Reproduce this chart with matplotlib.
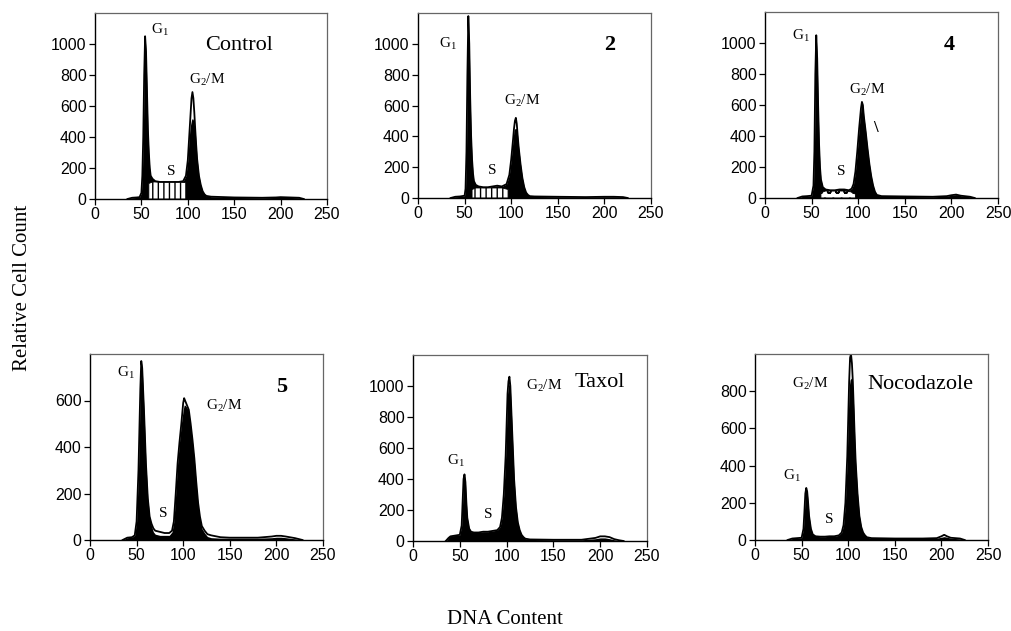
import numpy as np
import matplotlib
matplotlib.use('Agg')
import matplotlib.pyplot as plt

# DNA content histograms (x = DNA content, y = relative cell count)
ctrl_x = [35, 40, 45, 48, 50, 51, 52, 53, 54, 55, 56, 57, 58, 59, 60, 62, 65, 70, 80, 90, 95, 98,
          100, 101, 102, 103, 104, 105, 106, 107, 108, 109, 110, 112, 114, 116, 118, 120, 125,
          150, 180, 195, 200, 210, 220, 225]
ctrl_counts = [0, 8, 10, 12, 40, 150, 400, 800, 1050, 950, 700, 450, 300, 200, 150, 130, 115, 110,
               110, 110, 115, 150, 250, 350, 450, 550, 650, 690, 650, 560, 450, 350, 260, 150, 90,
               50, 30, 20, 15, 10, 8, 10, 12, 10, 8, 0]
ctrl_fit = [0, 8, 10, 12, 40, 150, 400, 800, 1050, 950, 700, 450, 300, 200, 150, 130, 115, 110,
            110, 110, 115, 150, 250, 350, 430, 480, 510, 520, 510, 480, 440, 350, 260, 150, 90,
            50, 30, 20, 15, 10, 8, 10, 12, 10, 8, 0]
ctrl_s_x = [58, 62, 70, 80, 90, 98]
ctrl_s_y = [100, 110, 110, 110, 110, 105]

c2_x = [35, 40, 45, 50, 51, 52, 53, 54, 55, 56, 57, 58, 59, 60, 62, 65, 70, 75, 80, 85, 90, 95, 98,
        100, 102, 103, 104, 105, 106, 107, 108, 110, 112, 114, 116, 118, 120, 125, 150, 180, 200,
        210, 220, 225]
c2_counts = [0, 8, 10, 15, 60, 300, 800, 1180, 1000, 650, 400, 250, 160, 110, 85, 75, 70, 70, 75,
             80, 75, 90, 150, 250, 380, 450, 500, 520, 480, 400, 330, 220, 130, 70, 35, 20, 12, 10,
             8, 6, 8, 8, 6, 0]
c2_fit = [0, 8, 10, 15, 60, 300, 800, 1180, 1000, 650, 400, 250, 160, 110, 85, 75, 70, 70, 75,
          80, 75, 90, 150, 250, 380, 440, 450, 450, 450, 400, 330, 220, 130, 70, 35, 20, 12, 10,
          8, 6, 8, 8, 6, 0]
c2_s_x = [58, 62, 70, 80, 90, 97]
c2_s_y = [55, 65, 65, 65, 65, 55]

c4_x = [35, 40, 45, 50, 52, 53, 54, 55, 56, 57, 58, 59, 60, 62, 65, 70, 75, 80, 85, 90, 93, 95, 97,
        99, 101, 103, 104, 105, 106, 108, 110, 112, 114, 116, 118, 120, 125, 150, 180, 195, 200,
        205, 210, 220, 225]
c4_counts = [0, 10, 12, 15, 80, 300, 800, 1050, 900, 600, 350, 200, 120, 70, 55, 50, 50, 55, 55,
             50, 60, 90, 170, 300, 450, 580, 620, 600, 530, 430, 320, 220, 140, 80, 40, 20, 12, 10,
             8, 12, 18, 22, 15, 8, 0]
c4_fit = c4_counts
c4_s_x = [60, 65, 75, 85, 92, 97]
c4_s_y = [35, 45, 45, 45, 40, 25]

c5_x = [35, 40, 45, 48, 50, 52, 54, 55, 56, 58, 60, 62, 64, 66, 68, 70, 75, 80, 85, 88, 90, 92, 94,
        96, 98, 100, 101, 102, 104, 106, 108, 110, 112, 114, 116, 118, 120, 123, 126, 130, 140,
        150, 180, 195, 200, 205, 210, 220, 228]
c5_counts = [0, 10, 12, 20, 80, 300, 650, 770, 740, 550, 330, 180, 100, 70, 50, 40, 35, 30, 30, 40,
             80, 200, 330, 420, 500, 590, 610, 600, 580, 560, 500, 430, 350, 250, 160, 100, 60, 40,
             25, 20, 12, 10, 10, 15, 18, 18, 15, 8, 0]
c5_fit = [0, 10, 12, 20, 80, 300, 650, 770, 740, 550, 330, 180, 100, 60, 35, 25, 20, 20, 20, 35,
          80, 200, 330, 420, 500, 560, 580, 580, 570, 550, 490, 420, 340, 240, 150, 90, 50, 30,
          15, 10, 8, 8, 8, 10, 12, 12, 10, 5, 0]

tax_x = [35, 38, 40, 45, 50, 52, 53, 54, 55, 56, 57, 58, 60, 62, 65, 70, 75, 80, 85, 90, 93, 95,
         97, 99, 100, 101, 102, 103, 104, 105, 106, 107, 108, 110, 112, 114, 116, 118, 120, 125,
         150, 180, 195, 200, 205, 210, 215, 220, 225]
tax_counts = [0, 20, 30, 35, 40, 100, 250, 400, 430, 380, 250, 150, 80, 60, 55, 55, 60, 60, 65, 70,
              90, 150, 300, 550, 750, 950, 1030, 1060, 1000, 850, 700, 550, 400, 220, 120, 70, 40,
              25, 15, 10, 8, 8, 20, 30, 30, 25, 12, 5, 0]
tax_fit = [0, 20, 30, 35, 40, 100, 250, 400, 430, 380, 250, 150, 80, 60, 55, 55, 60, 60, 65, 70,
           90, 150, 300, 550, 750, 950, 1000, 1020, 980, 850, 700, 550, 400, 220, 120, 70, 40,
           25, 15, 10, 8, 8, 15, 20, 20, 15, 8, 3, 0]
tax_s_x = [38, 40, 50, 60, 70, 80, 90, 98]
tax_s_y = [20, 30, 32, 32, 32, 32, 30, 20]

noc_x = [35, 40, 45, 50, 52, 53, 54, 55, 56, 57, 58, 60, 62, 65, 70, 75, 80, 85, 90, 93, 95, 97, 99,
         100, 101, 102, 103, 104, 105, 106, 107, 108, 110, 112, 114, 116, 118, 120, 125, 150, 180,
         195, 200, 203, 206, 210, 220, 225]
noc_counts = [0, 8, 10, 12, 60, 150, 250, 280, 260, 200, 130, 60, 30, 20, 18, 18, 20, 20, 25, 40,
              80, 200, 450, 650, 850, 980, 1000, 950, 850, 700, 550, 420, 250, 130, 70, 40, 25, 15,
              10, 8, 8, 10, 20, 28, 20, 12, 8, 0]
noc_fit = [0, 8, 10, 12, 60, 150, 250, 280, 260, 200, 130, 60, 30, 20, 18, 18, 20, 20, 25, 40,
           80, 200, 450, 650, 820, 860, 870, 860, 820, 700, 550, 420, 250, 130, 70, 40, 25, 15,
           10, 8, 8, 10, 15, 18, 15, 10, 6, 0]

# axes boxes in pixels: left, top, right, bottom
boxes = [(95, 13, 327, 199), (418, 13, 651, 198), (765, 12, 998, 198),
         (90, 354, 323, 540), (413, 355, 647, 541), (755, 354, 988, 540)]
W, H = 1011, 631

serif = 'Liberation Serif'
sans = 'Liberation Sans'

fig = plt.figure(figsize=(W / 100, H / 100), dpi=100)
fig.patch.set_facecolor('white')


def make_ax(box, ymax, yticks):
    l, t, r, b = box
    ax = fig.add_axes([l / W, 1 - b / H, (r - l) / W, (b - t) / H])
    ax.set_xlim(0, 250)
    ax.set_ylim(0, ymax)
    ax.set_xticks([0, 50, 100, 150, 200, 250])
    ax.set_yticks(yticks)
    ax.tick_params(direction='out', length=4, width=0.9, labelsize=11.5, pad=2)
    for lab in ax.get_xticklabels() + ax.get_yticklabels():
        lab.set_fontfamily(sans)
    for side in ['top', 'right']:
        ax.spines[side].set_color('#666666')
        ax.spines[side].set_linewidth(0.9)
    for side in ['left', 'bottom']:
        ax.spines[side].set_linewidth(1.0)
    return ax


def draw(ax, x, counts, fit):
    ax.fill_between(x, 0, fit, color='black', lw=0)
    ax.plot(x, counts, color='black', lw=1.3)


def lbl(ax, x, y, s, size=11, weight='normal', ha='left'):
    ax.text(x, y, s, fontsize=size, fontfamily=serif, fontweight=weight, ha=ha, va='center')


# Control
ax = make_ax(boxes[0], 1200, [0, 200, 400, 600, 800, 1000])
draw(ax, ctrl_x, ctrl_counts, ctrl_fit)
ax.fill_between(ctrl_s_x, 0, ctrl_s_y, facecolor='white', edgecolor='black', hatch='|||', lw=0.6)
lbl(ax, 60, 1090, 'G$_\\mathregular{1}$')
lbl(ax, 119, 990, 'Control', size=16)
lbl(ax, 82, 175, 'S', ha='center')
lbl(ax, 101, 770, 'G$_\\mathregular{2}$/M')

# 2
ax = make_ax(boxes[1], 1200, [0, 200, 400, 600, 800, 1000])
draw(ax, c2_x, c2_counts, c2_fit)
ax.fill_between(c2_s_x, 0, c2_s_y, facecolor='white', edgecolor='black', hatch='|||', lw=0.6)
lbl(ax, 22, 1000, 'G$_\\mathregular{1}$')
lbl(ax, 206, 990, '2', size=16, weight='bold', ha='center')
lbl(ax, 80, 180, 'S', ha='center')
lbl(ax, 92, 630, 'G$_\\mathregular{2}$/M')

# 4
ax = make_ax(boxes[2], 1200, [0, 200, 400, 600, 800, 1000])
draw(ax, c4_x, c4_counts, c4_fit)
ax.fill_between(c4_s_x, 0, c4_s_y, facecolor='white', edgecolor='black', hatch='oo', lw=0.6)
lbl(ax, 29, 1050, 'G$_\\mathregular{1}$')
lbl(ax, 198, 990, '4', size=16, weight='bold', ha='center')
lbl(ax, 82, 170, 'S', ha='center')
lbl(ax, 90, 700, 'G$_\\mathregular{2}$/M')
lbl(ax, 118, 450, '\\', size=12, weight='bold', ha='center')

# 5
ax = make_ax(boxes[3], 800, [0, 200, 400, 600])
draw(ax, c5_x, c5_counts, c5_fit)
lbl(ax, 29, 718, 'G$_\\mathregular{1}$')
lbl(ax, 206, 658, '5', size=16, weight='bold', ha='center')
lbl(ax, 79, 116, 'S', ha='center')
lbl(ax, 124, 580, 'G$_\\mathregular{2}$/M')

# Taxol
ax = make_ax(boxes[4], 1200, [0, 200, 400, 600, 800, 1000])
ax.fill_between(tax_s_x, 0, tax_s_y, facecolor='#808080', edgecolor='black', lw=0.6)
draw(ax, tax_x, tax_counts, tax_fit)
lbl(ax, 36, 520, 'G$_\\mathregular{1}$')
lbl(ax, 173, 1025, 'Taxol', size=16)
lbl(ax, 80, 170, 'S', ha='center')
lbl(ax, 121, 1000, 'G$_\\mathregular{2}$/M')

# Nocodazole
ax = make_ax(boxes[5], 1000, [0, 200, 400, 600, 800])
draw(ax, noc_x, noc_counts, noc_fit)
lbl(ax, 30, 345, 'G$_\\mathregular{1}$')
lbl(ax, 40, 838, 'G$_\\mathregular{2}$/M')
lbl(ax, 121, 838, 'Nocodazole', size=16)
lbl(ax, 80, 110, 'S', ha='center')

fig.text(23 / W, 1 - 288 / H, 'Relative Cell Count', rotation=90, fontsize=15,
         fontfamily=serif, ha='center', va='center')
fig.text(505 / W, 1 - 620 / H, 'DNA Content', fontsize=15, fontfamily=serif,
         ha='center', va='center')

fig.savefig('out.png', dpi=100, facecolor='white')
